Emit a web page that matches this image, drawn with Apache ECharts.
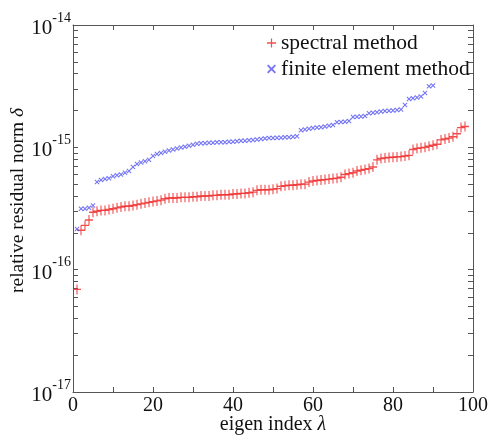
<!DOCTYPE html>
<html><head><meta charset="utf-8">
<script src="https://cdn.jsdelivr.net/npm/echarts@6/dist/echarts.min.js"></script>
<style>html,body{margin:0;padding:0;background:#fff}#c{width:489px;height:440px}</style>
</head><body><div id="c"></div>
<script>
// values in units of 1e-16
const UNIT = 1e-16;
const spectral = [0.69, 2.1, 2.3, 2.55, 2.95, 3.0, 3.05, 3.05, 3.1, 3.15,
 3.2, 3.25, 3.3, 3.3, 3.35, 3.4, 3.45, 3.5, 3.55, 3.6,
 3.65, 3.7, 3.8, 3.85, 3.85, 3.85, 3.9, 3.9, 3.9, 3.95,
 3.95, 4.0, 4.0, 4.0, 4.05, 4.05, 4.1, 4.1, 4.1, 4.15,
 4.15, 4.2, 4.2, 4.25, 4.3, 4.45, 4.5, 4.5, 4.5, 4.55,
 4.6, 4.8, 4.85, 4.9, 4.9, 4.95, 5.0, 5.0, 5.2, 5.3,
 5.35, 5.4, 5.45, 5.5, 5.55, 5.6, 5.7, 6.0, 6.1, 6.2,
 6.4, 6.5, 6.6, 6.7, 6.9, 7.9, 8.1, 8.2, 8.25, 8.3,
 8.35, 8.4, 8.5, 8.6, 9.6, 9.8, 9.9, 10.0, 10.2, 10.4,
 10.6, 11.5, 11.7, 11.9, 12.2, 12.9, 14.5, 14.8];
const fem = [2.15, 3.15, 3.15, 3.2, 3.35, 5.2, 5.4, 5.5, 5.6, 5.8,
 5.9, 6.0, 6.2, 6.4, 6.9, 7.3, 7.5, 7.7, 7.9, 8.5,
 8.8, 9.0, 9.2, 9.4, 9.6, 9.8, 9.95, 10.1, 10.3, 10.5,
 10.7, 10.8, 10.8, 10.9, 10.9, 11.0, 11.0, 11.0, 11.1, 11.1,
 11.2, 11.3, 11.3, 11.4, 11.5, 11.6, 11.7, 11.8, 11.9, 11.9,
 12.0, 12.0, 12.1, 12.1, 12.2, 12.3, 13.8, 14.0, 14.2, 14.4,
 14.5, 14.6, 14.8, 15.0, 15.2, 16.0, 16.1, 16.2, 16.4, 17.7,
 17.8, 17.9, 18.0, 19.0, 19.2, 19.4, 19.6, 19.8, 19.9, 20.0,
 20.2, 20.4, 22.2, 24.8, 25.2, 25.6, 26.0, 27.8, 31.5, 32.0];
const yMajor = [1e-17, 1e-16, 1e-15, 1e-14];
const yTicks = [];
[1e-17, 1e-16, 1e-15].forEach(d => { for (let k = 1; k <= 9; k++) yTicks.push(k * d); });
yTicks.push(1e-14);

const FONT = 'Liberation Serif, Times New Roman, DejaVu Serif, serif';
const AX = '#555';
const plusPath = 'path://M4.3,0 H5.7 V4.3 H10 V5.7 H5.7 V10 H4.3 V5.7 H0 V4.3 H4.3 Z';
const crossPath = 'path://M0,1.5 L1.5,0 L5,3.5 L8.5,0 L10,1.5 L6.5,5 L10,8.5 L8.5,10 L5,6.5 L1.5,10 L0,8.5 L3.5,5 Z';
const RED = '#ee3030', BLUE = '#4848ee';

const chart = echarts.init(document.getElementById('c'), null, {renderer: 'canvas'});
const xBase = {
  type: 'value', min: 0, max: 100, interval: 10,
  axisLine: {show: true, onZero: false, lineStyle: {color: AX, width: 1}},
  axisTick: {show: true, inside: true, length: 5, lineStyle: {color: AX}},
  splitLine: {show: false}
};
const yBase = {
  type: 'log', logBase: 10, min: 1e-17, max: 1e-14,
  axisLine: {show: true, onZero: false, lineStyle: {color: AX, width: 1}},
  axisTick: {show: true, inside: true, length: 5, customValues: yTicks, lineStyle: {color: AX}},
  splitLine: {show: false}, minorTick: {show: false}
};
chart.setOption({
  animation: false,
  backgroundColor: '#fff',
  grid: {left: 73, right: 16, top: 25, bottom: 48, containLabel: false, outerBoundsMode: 'none'},
  legend: {
    orient: 'vertical', left: 262, top: 27, itemGap: 4,
    itemWidth: 9, itemHeight: 9,
    textStyle: {fontFamily: FONT, fontSize: 21.5, color: '#111'},
    data: [{name: 'spectral method', icon: plusPath, itemStyle: {color: RED}},
           {name: 'finite element method', icon: crossPath, itemStyle: {color: BLUE}}]
  },
  xAxis: [
    Object.assign({}, xBase, {
      position: 'bottom',
      name: 'eigen index {i|λ}', nameLocation: 'middle', nameGap: 23, nameMoveOverlap: false,
      nameTextStyle: {fontFamily: FONT, fontSize: 20, color: '#111',
        rich: {i: {fontFamily: FONT, fontSize: 20, fontStyle: 'italic', color: '#111'}}},
      axisLabel: {show: true, margin: 4, fontFamily: FONT, fontSize: 20, color: '#111',
        formatter: v => (v % 20 === 0 ? String(v) : '')}
    }),
    Object.assign({}, xBase, {position: 'top', axisLabel: {show: false}})
  ],
  yAxis: [
    Object.assign({}, yBase, {
      position: 'left',
      name: 'relative residual norm {i|δ}', nameLocation: 'middle', nameGap: 45, nameMoveOverlap: false,
      nameTextStyle: {fontFamily: FONT, fontSize: 19.5, color: '#111', padding: [0, 0, 0, 16],
        rich: {i: {fontFamily: FONT, fontSize: 19.5, fontStyle: 'italic', color: '#111'}}},
      axisLabel: {show: true, margin: 2, customValues: yMajor,
        formatter: v => '{b|10}{s|' + Math.round(Math.log10(v)) + '}',
        rich: {
          b: {fontFamily: FONT, fontSize: 21, color: '#111', lineHeight: 28, verticalAlign: 'bottom'},
          s: {fontFamily: FONT, fontSize: 14, color: '#111', lineHeight: 14, verticalAlign: 'top'}
        }}
    }),
    Object.assign({}, yBase, {position: 'right', axisLabel: {show: false}})
  ],
  series: [
    {name: 'spectral method', type: 'scatter', xAxisIndex: 0, yAxisIndex: 0,
     symbol: plusPath, symbolSize: [8, 10],
     itemStyle: {color: RED, opacity: 0.85},
     data: spectral.map((v, i) => [i + 1, v * UNIT])},
    {name: 'finite element method', type: 'scatter', xAxisIndex: 0, yAxisIndex: 0,
     symbol: crossPath, symbolSize: 5,
     itemStyle: {color: BLUE, opacity: 0.75},
     data: fem.map((v, i) => [i + 1, v * UNIT])}
  ]
});
</script></body></html>
